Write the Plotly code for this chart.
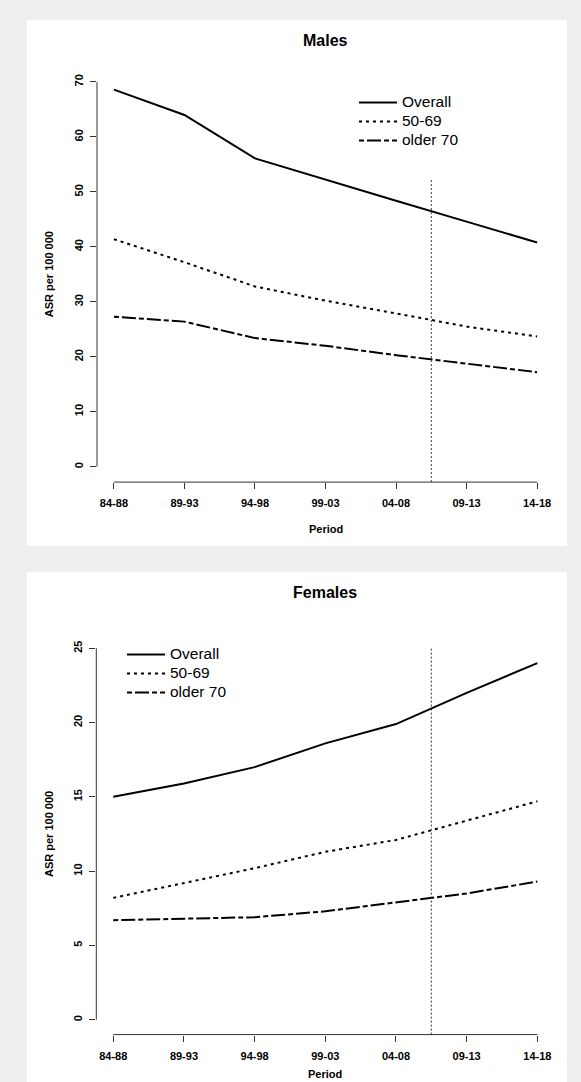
import plotly.graph_objects as go

# ---------------- data ----------------
periods = ["84-88", "89-93", "94-98", "99-03", "04-08", "09-13", "14-18"]
series_names = ["Overall", "50-69", "older 70"]

males_overall = [68.6, 64.0, 56.1, 52.2, 48.4, 44.6, 40.8]
males_50_69 = [41.4, 37.2, 32.8, 30.2, 27.9, 25.5, 23.7]
males_older70 = [27.3, 26.4, 23.4, 22.0, 20.3, 18.7, 17.2]

females_overall = [15.0, 15.9, 17.0, 18.6, 19.9, 22.0, 24.0]
females_50_69 = [8.2, 9.2, 10.2, 11.3, 12.1, 13.4, 14.7]
females_older70 = [6.7, 6.8, 6.9, 7.3, 7.9, 8.5, 9.3]

male_yticks = [0, 10, 20, 30, 40, 50, 60, 70]
female_yticks = [0, 5, 10, 15, 20, 25]

cut_position = 4.5        # between 04-08 and 09-13
male_cut_top = 52.2
female_cut_top = 25.0

# ---------------- styling ----------------
FONT = "Liberation Sans, Arial, Helvetica, sans-serif"
AXIS_COLOR = "#333333"
dashes = ["solid", "3px,4px", "5px,3px,14px,3px"]
W, H = 581, 1082


def py(pix):
    return 1 - pix / H


def px(pix):
    return pix / W


fig = go.Figure()

male_vals = [males_overall, males_50_69, males_older70]
female_vals = [females_overall, females_50_69, females_older70]

for name, vals, d in zip(series_names, male_vals, dashes):
    fig.add_trace(go.Scatter(
        x=periods, y=vals, mode="lines",
        name=f'<span style="font-size:15.5px">{name}</span>',
        line=dict(color="black", width=2, dash=d),
        xaxis="x", yaxis="y", legend="legend", hoverinfo="x+y"))

for name, vals, d in zip(series_names, female_vals, dashes):
    fig.add_trace(go.Scatter(
        x=periods, y=vals, mode="lines",
        name=f'<span style="font-size:15.5px">{name}</span>',
        line=dict(color="black", width=2, dash=d),
        xaxis="x2", yaxis="y2", legend="legend2", hoverinfo="x+y"))

male_range = [-0.04 * male_yticks[-1], male_yticks[-1] * 1.04]
female_range = [-0.04 * female_yticks[-1], female_yticks[-1] * 1.04]
n = len(periods) - 1
x_range = [-0.04 * n, n * 1.04]

xcommon = dict(type="category", range=x_range, showgrid=False, zeroline=False,
               showline=False, ticks="outside", ticklen=6, tickwidth=1,
               tickcolor=AXIS_COLOR, ticklabelstandoff=5,
               tickfont=dict(family=FONT, size=11, color="black", weight="bold"))
ycommon = dict(showgrid=False, zeroline=False, showline=False, ticks="outside",
               ticklen=6, tickwidth=1, tickcolor=AXIS_COLOR, tickangle=-90,
               ticklabelstandoff=3,
               tickfont=dict(family=FONT, size=11, color="black", weight="bold"))

fig.update_layout(
    width=W, height=H, autosize=False,
    margin=dict(l=0, r=0, t=0, b=0),
    paper_bgcolor="#eeeeee", plot_bgcolor="rgba(0,0,0,0)",
    font=dict(family=FONT, color="black"),
    xaxis=dict(domain=[px(97), px(554)], anchor="y", **xcommon),
    yaxis=dict(domain=[py(482.1), py(66.6)], anchor="x", range=male_range,
               tickvals=male_yticks, **ycommon),
    xaxis2=dict(domain=[px(96.3), px(554.3)], anchor="y2", **xcommon),
    yaxis2=dict(domain=[py(1034.6), py(633.4)], anchor="x2", range=female_range,
                tickvals=female_yticks, **ycommon),
    legend=dict(x=px(354), xanchor="left", y=py(88), yanchor="top",
                bgcolor="rgba(0,0,0,0)", borderwidth=0,
                font=dict(family=FONT, size=12, color="black"), itemwidth=38),
    legend2=dict(x=px(122), xanchor="left", y=py(640), yanchor="top",
                 bgcolor="rgba(0,0,0,0)", borderwidth=0,
                 font=dict(family=FONT, size=12, color="black"), itemwidth=38),
    showlegend=True,
)

shapes = [
    # white panels
    dict(type="rect", xref="paper", yref="paper", x0=px(27), x1=px(567),
         y0=py(546), y1=py(20), fillcolor="white", line=dict(width=0), layer="below"),
    dict(type="rect", xref="paper", yref="paper", x0=px(27), x1=px(567),
         y0=py(1100), y1=py(572), fillcolor="white", line=dict(width=0), layer="below"),
]
# R-style axis lines (span only first..last tick)
for xa, ya, yt in (("x", "y", male_yticks), ("x2", "y2", female_yticks)):
    shapes.append(dict(type="line", xref=xa, yref=f"{ya} domain", x0=0, x1=n,
                       y0=0, y1=0, line=dict(color=AXIS_COLOR, width=1)))
    shapes.append(dict(type="line", xref=f"{xa} domain", yref=ya, x0=0, x1=0,
                       y0=yt[0], y1=yt[-1], line=dict(color=AXIS_COLOR, width=1)))
# vertical cut lines
shapes.append(dict(type="line", xref="x", yref="y", x0=cut_position, x1=cut_position,
                   y0=male_range[0], y1=male_cut_top,
                   line=dict(color="#333333", width=1, dash="2px,2px")))
shapes.append(dict(type="line", xref="x2", yref="y2", x0=cut_position, x1=cut_position,
                   y0=female_range[0], y1=female_cut_top,
                   line=dict(color="#333333", width=1, dash="2px,2px")))
fig.update_layout(shapes=shapes)

ann = []
for xd, title, ty, yc, pery in (("x", "Males", 40, 274.3, 529),
                                ("x2", "Females", 592, 834, 1074)):
    ann.append(dict(text=f"<b>{title}</b>", xref=f"{xd} domain", x=0.5, yref="paper",
                    y=py(ty), yanchor="middle", showarrow=False,
                    font=dict(family=FONT, size=16, color="black")))
    ann.append(dict(text="<b>ASR per 100 000</b>", xref="paper", x=px(49),
                    yref="paper", y=py(yc), textangle=-90, showarrow=False,
                    xanchor="center", yanchor="middle",
                    font=dict(family=FONT, size=11, color="black")))
    ann.append(dict(text="<b>Period</b>", xref=f"{xd} domain", x=0.5, yref="paper",
                    y=py(pery), yanchor="middle", showarrow=False,
                    font=dict(family=FONT, size=11, color="black")))
fig.update_layout(annotations=ann)

fig.write_html(
    "out.html",
    config={"displayModeBar": False},
    post_script="document.body.style.margin='0';"
                "document.documentElement.style.overflow='hidden';"
                "document.body.style.overflow='hidden';",
)
